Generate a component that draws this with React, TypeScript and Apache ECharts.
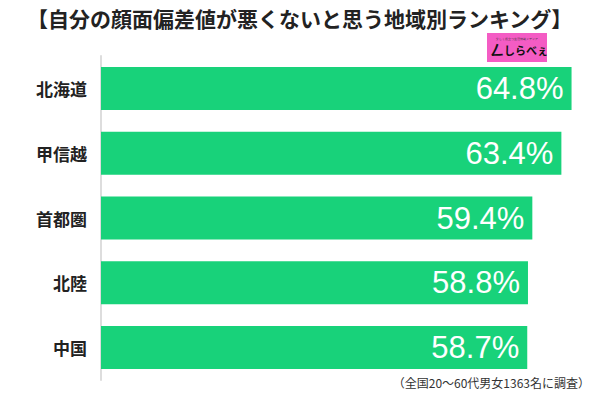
import React, { useEffect, useRef } from "react";
import * as echarts from "echarts";

const categories = ["北海道", "甲信越", "首都圏", "北陸", "中国"];
const values = [64.8, 63.4, 59.4, 58.8, 58.7];
const titleText = "【自分の顔面偏差値が悪くないと思う地域別ランキング】";
const noteText = "（全国20〜60代男女1363名に調査）";

export default function App() {
  const ref = useRef<HTMLDivElement>(null);
  useEffect(() => {
    if (!ref.current) return;
    const chart = echarts.init(ref.current, null, { renderer: "svg" });
    chart.setOption({
      animation: false,
      backgroundColor: "#ffffff",
      grid: { left: 101, right: 27, top: 56, bottom: 21 },
      xAxis: { type: "value", min: 0, max: 65, show: false },
      yAxis: {
        type: "category",
        data: categories,
        inverse: true,
        axisLine: { show: true, lineStyle: { color: "#dddddd", width: 2 } },
        axisTick: { show: false },
        axisLabel: {
          color: "#222222",
          fontSize: 17,
          fontWeight: "bold",
          fontFamily: "Noto Sans CJK JP",
          margin: 14,
        },
      },
      series: [
        {
          type: "bar",
          data: values,
          barWidth: 43,
          itemStyle: { color: "#18d27a" },
          label: {
            show: true,
            position: "insideRight",
            distance: 8,
            formatter: "{c}%",
            color: "#ffffff",
            fontSize: 31,
            fontFamily: "Liberation Sans",
          },
        },
      ],
      graphic: [
        {
          type: "text",
          left: "center",
          top: 7,
          style: {
            text: titleText,
            fontSize: 21,
            fontWeight: "bold",
            fill: "#222222",
            fontFamily: "Noto Sans CJK JP",
          },
        },
        {
          type: "group",
          left: 487,
          top: 33,
          children: [
            { type: "rect", shape: { x: 0, y: 0, width: 60, height: 29 }, style: { fill: "#f45cc4" } },
            {
              type: "text",
              x: 30,
              y: 4,
              style: { text: "楽しく役立つ生活情報メディア", fontSize: 3, fill: "#333", align: "center" },
            },
            {
              type: "text",
              x: 3,
              y: 9,
              style: { text: "ㄥ", fontSize: 14, fontWeight: "bold", fill: "#111", fontFamily: "Noto Sans CJK JP" },
            },
            {
              type: "text",
              x: 17,
              y: 11,
              style: { text: "しらべぇ", fontSize: 11, fontWeight: "bold", fill: "#111", fontFamily: "Noto Sans CJK JP" },
            },
          ],
        },
        {
          type: "text",
          right: 10,
          top: 376,
          style: {
            text: noteText,
            fontSize: 12,
            fill: "#333333",
            fontFamily: "Noto Sans CJK JP",
          },
        },
      ],
    });
    return () => chart.dispose();
  }, []);
  return <div ref={ref} style={{ width: 600, height: 401, position: "absolute", left: 0, top: 0 }} />;
}
